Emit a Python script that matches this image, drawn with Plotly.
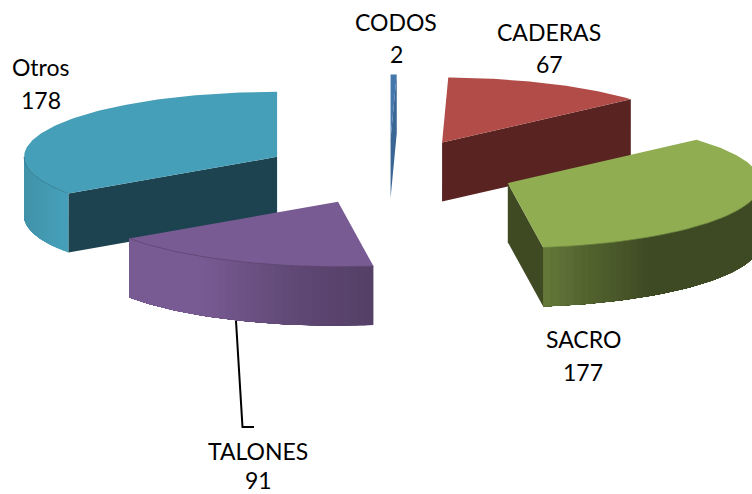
import numpy as np
import plotly.graph_objs as go

# Chart data
categories = ['CODOS', 'CADERAS', 'SACRO', 'TALONES', 'Otros']
values = [2, 67, 177, 91, 178]

# Colours per slice: top face, cut face
top_colors = [(68, 119, 172), (177, 76, 72), (144, 173, 82), (120, 91, 147), (70, 159, 184)]
cut_colors = [(58, 102, 150), (88, 35, 33), (64, 74, 34), (82, 60, 98), (30, 67, 80)]

# Label centres in pixels
label_x = [396, 549, 583, 258, 41]
label_y = [22, 32, 339, 451, 67]
line_gap = [32, 32, 33, 29, 33]

# Wall brightness against the sideways direction of the wall
shade_s = [-1.0, -0.85, -0.55, -0.16, 0.14, 0.3, 0.56, 1.0]
shade_k = [0.92, 1.0, 1.0, 0.79, 0.7, 0.58, 0.43, 0.43]

# Pie geometry in pixels
cx, cy = 389, 172
rx, ry = 253, 65
depth = 59
explode = 0.5
draw_order = [0, 1, 4, 2, 3]  # back to front


def rgb(c):
    return 'rgb(%d,%d,%d)' % tuple(int(round(v)) for v in c)


def poly(xs, ys, color):
    return go.Scatter(
        x=list(xs), y=list(ys),
        mode='lines',
        fill='toself',
        fillcolor=color,
        line=dict(color=color, width=0),
        hoverinfo='skip',
        showlegend=False
    )


fracs = np.array(values) / sum(values)
ends = np.cumsum(fracs) * 2 * np.pi
starts = ends - fracs * 2 * np.pi

traces = []
for i in draw_order:
    t0, t1 = starts[i], ends[i]
    mid = (t0 + t1) / 2
    ax = cx + explode * rx * np.sin(mid)
    ay = cy - explode * ry * np.cos(mid)

    # cut faces that look towards the viewer
    for t, visible in ((t0, np.sin(t0) < -1e-6), (t1, np.sin(t1) > 1e-6)):
        if visible:
            ex = ax + rx * np.sin(t)
            ey = ay - ry * np.cos(t)
            traces.append(poly([ax, ex, ex, ax, ax],
                               [ay, ey, ey + depth, ay + depth, ay],
                               rgb(cut_colors[i])))

    # outer wall: each band runs to the end of the wall and the next one paints
    # over it, so no seams show between the gradient steps
    w0, w1 = max(t0, np.pi / 2), min(t1, 3 * np.pi / 2)
    if w1 > w0:
        n = max(int((w1 - w0) / 0.03), 2)
        tt = np.linspace(w0, w1, n + 1)
        for a, b in zip(tt[:-1], tt[1:]):
            k = np.interp(np.sin((a + b) / 2), shade_s, shade_k)
            c = [v * k for v in top_colors[i]]
            arc = np.linspace(a, w1, 60)
            xa = ax + rx * np.sin(arc)
            ya = ay - ry * np.cos(arc)
            traces.append(poly(np.concatenate([xa, xa[::-1], xa[:1]]),
                               np.concatenate([ya, ya[::-1] + depth, ya[:1]]),
                               rgb(c)))

    # top face
    tt = np.linspace(t0, t1, 120)
    xs = np.concatenate([[ax], ax + rx * np.sin(tt), [ax]])
    ys = np.concatenate([[ay], ay - ry * np.cos(tt), [ay]])
    traces.append(poly(xs, ys, rgb(top_colors[i])))

    # thin darker seam where the top meets the wall
    if w1 > w0:
        arc = np.linspace(w0, w1, 80)
        traces.append(go.Scatter(
            x=ax + rx * np.sin(arc), y=ay - ry * np.cos(arc),
            mode='lines',
            line=dict(color=rgb([v * 0.75 for v in top_colors[i]]), width=0.7),
            hoverinfo='skip',
            showlegend=False
        ))

# Leader line for TALONES
traces.append(go.Scatter(
    x=[236, 242.5, 254], y=[321, 427, 427],
    mode='lines',
    line=dict(color='black', width=2),
    hoverinfo='skip',
    showlegend=False
))

annotations = []
for name, val, lx, ly, gap in zip(categories, values, label_x, label_y, line_gap):
    for text, y in ((name, ly), (str(val), ly + gap)):
        annotations.append(dict(
            x=lx, y=y, xref='x', yref='y',
            text=text, showarrow=False,
            xanchor='center', yanchor='middle',
            font=dict(family='Lato', size=23, color='black')
        ))

layout = go.Layout(
    width=752, height=494,
    margin=dict(l=0, r=0, t=0, b=0),
    paper_bgcolor='white',
    plot_bgcolor='white',
    xaxis=dict(range=[0, 752], visible=False, fixedrange=True),
    yaxis=dict(range=[494, 0], visible=False, fixedrange=True),
    annotations=annotations,
    showlegend=False
)

fig = go.Figure(data=traces, layout=layout)
# the page's default body margin would push the chart 8px in
fig.write_html("out.html", config=dict(displayModeBar=False),
               post_script="document.body.style.margin='0';document.body.style.overflow='hidden';")
